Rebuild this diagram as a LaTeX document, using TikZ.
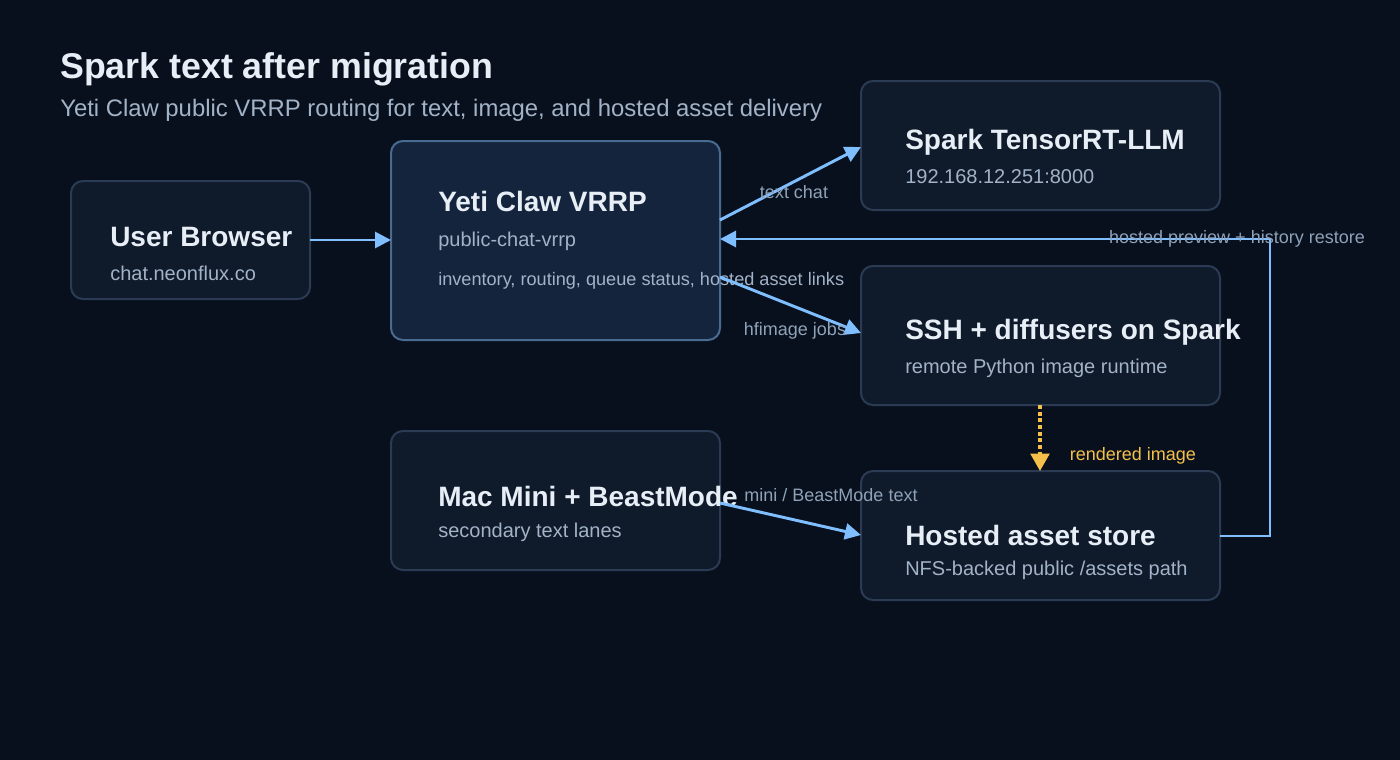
\documentclass[tikz,border=0pt]{standalone}
\usepackage{fontspec}
\setmainfont{Liberation Sans}
\usetikzlibrary{arrows.meta}
\definecolor{bg}{HTML}{08101E}
\definecolor{boxfill}{HTML}{0F1A2B}
\definecolor{boxline}{HTML}{2B3B54}
\definecolor{hubfill}{HTML}{13243C}
\definecolor{hubline}{HTML}{4A6B91}
\definecolor{titlec}{HTML}{E8EEF6}
\definecolor{subc}{HTML}{A3B3C7}
\definecolor{lblc}{HTML}{8FA2B8}
\definecolor{arrc}{HTML}{7FBFFF}
\definecolor{yel}{HTML}{F5C04A}
\begin{document}
\begin{tikzpicture}[x=0.75pt,y=-0.75pt,
  box/.style={draw=boxline,fill=boxfill,line width=1.5pt,rounded corners=9pt},
  hub/.style={draw=hubline,fill=hubfill,line width=1.5pt,rounded corners=9pt},
  ttl/.style={anchor=west,text=titlec,font=\fontsize{21}{24}\selectfont\bfseries,inner sep=0},
  sub/.style={anchor=west,text=subc,font=\fontsize{15}{18}\selectfont,inner sep=0},
  lbl/.style={text=lblc,font=\fontsize{13.5}{16}\selectfont,inner sep=0},
  arr/.style={draw=arrc,line width=2.2pt,-{Triangle[length=12pt,width=12pt]}}]
\fill[bg] (0,0) rectangle (1400,760);
\useasboundingbox (0,0) rectangle (1400,760);
\node[anchor=west,text=titlec,font=\fontsize{26.8}{30}\selectfont\bfseries,inner sep=0] (title) at (60,69) {Spark text after migration};
\node[anchor=west,text=subc,font=\fontsize{17.9}{21}\selectfont,inner sep=0] (subtitle) at (60,110) {Yeti Claw public VRRP routing for text, image, and hosted asset delivery};
% boxes
\draw[box] (71,181) rectangle (310,299);
\coordinate (ubE) at (310,240);
\node[ttl] (ubt) at (110,237) {User Browser};
\node[sub] (ubs) at (110,273) {chat.neonflux.co};
\draw[hub] (391,141) rectangle (720,340);
\coordinate (ycW) at (391,240);
\coordinate (ycA) at (720,220);
\coordinate (ycB) at (720,277);
\coordinate (ycC) at (720,239);
\node[ttl] (yct) at (438,201) {Yeti Claw VRRP};
\node[sub] (ycs) at (438,241) {public-chat-vrrp};
\node[anchor=west,text=subc,font=\fontsize{13.6}{16}\selectfont,inner sep=0] (ycd) at (438,281) {inventory, routing, queue status, hosted asset links};
\draw[box] (861,81) rectangle (1220,210);
\coordinate (spW) at (861,147);
\node[ttl] (spt) at (905,142) {Spark TensorRT-LLM};
\node[sub] (sps) at (905,177) {192.168.12.251:8000};
\draw[box] (861,266) rectangle (1220,405);
\coordinate (ssW) at (861,333);
\coordinate (ssS) at (1040,405);
\node[ttl] (sst) at (905,332) {SSH + diffusers on Spark};
\node[sub] (sss) at (905,368) {remote Python image runtime};
\draw[box] (391,431) rectangle (720,570);
\coordinate (mmE) at (720,503);
\node[ttl] (mmt) at (438,496) {Mac Mini + BeastMode};
\node[sub] (mms) at (438,532) {secondary text lanes};
\draw[box] (861,471) rectangle (1220,600);
\coordinate (haW) at (861,535);
\coordinate (haN) at (1040,471);
\coordinate (haE) at (1220,536);
\node[ttl] (hat) at (905,535) {Hosted asset store};
\node[sub] (has) at (905,570) {NFS-backed public /assets path};
% connectors
\draw[arr] (ubE) -- (ycW);
\draw[arr] (ycA) -- (spW);
\draw[arr] (ycB) -- (ssW);
\draw[arr] (mmE) -- (haW);
\draw[draw=yel,line width=2.4pt,dash pattern=on 3pt off 2pt,-{Triangle[length=13pt,width=14pt]}] (ssS) -- (haN);
\draw[arr] (haE) -- (1270,536) -- (1270,239) -- (ycC);
% labels
\node[lbl] (l1) at (794,192) {text chat};
\node[lbl] (l2) at (795,331) {hfimage jobs};
\node[lbl] (l3) at (831,495) {mini / BeastMode text};
\node[text=yel,font=\fontsize{13.5}{16}\selectfont,inner sep=0] (l4) at (1133,456) {rendered image};
\node[lbl] (l5) at (1237,239) {hosted preview + history restore};
\end{tikzpicture}
\end{document}
